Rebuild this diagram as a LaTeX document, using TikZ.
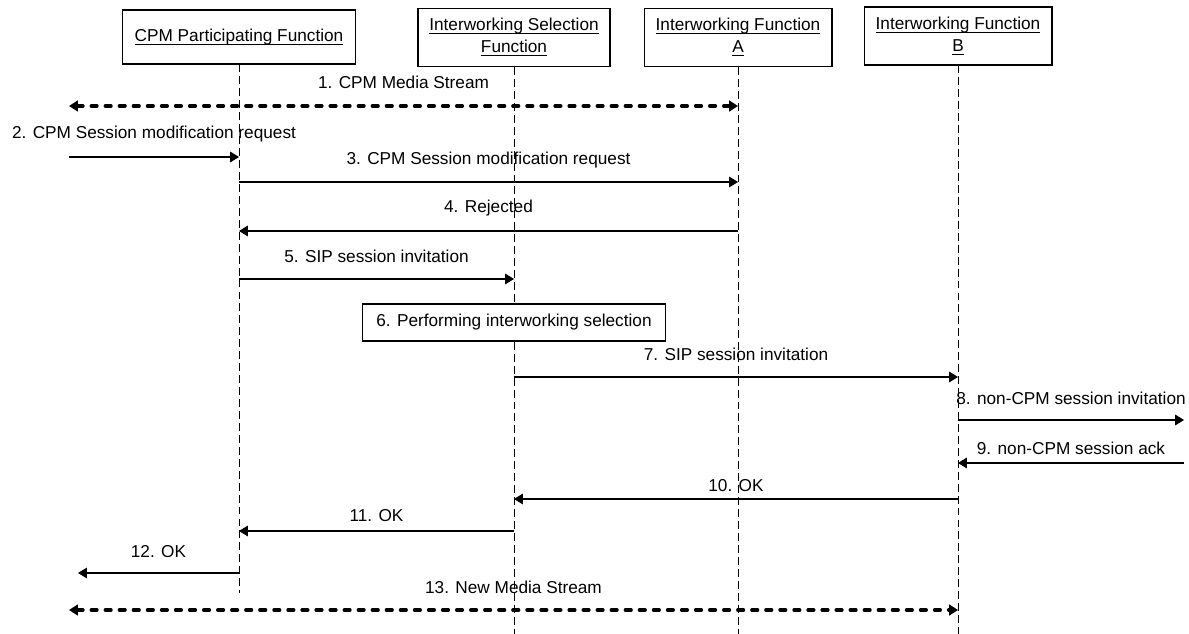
\documentclass[tikz,border=0pt]{standalone}
\usepackage{amsmath}
\usepackage{fontspec}
\setmainfont{Liberation Sans}
\usepackage{tikz}
\usetikzlibrary{arrows.meta}
\usetikzlibrary{positioning}
\newcommand{\undl}[1]{\underline{\smash[b]{#1}}}

\begin{document}
\begin{tikzpicture}[x=0.02cm,y=-0.02cm,
                    font=\fontsize{9.8}{12.5}\selectfont,
                    >={Triangle[length=5pt,width=6pt]},
                    entity/.style={draw,line width=0.6pt,align=center,inner sep=0pt,minimum height=1.16cm},
                    lifeline/.style={line width=0.5pt,dash pattern=on 4.5pt off 2.3pt},
                    msg/.style={->,line width=0.6pt},
                    media/.style={<->,line width=2pt,dash pattern=on 3.2pt off 4.8pt,line cap=round}]
                    \useasboundingbox (0,0) rectangle (1189,634);
                    
                    \node (cpf) [entity,minimum width=4.66cm,minimum height=1.08cm] at (239,37) {\undl{CPM Participating Function}};
                    \node (isf) [entity,minimum width=3.84cm] at (514,37.5) {\undl{Interworking Selection}\\\undl{Function}};
                    \node (iwfa) [entity,minimum width=3.76cm] at (738,37.5) {\undl{Interworking Function}\\\undl{A}};
                    \node (iwfb) [entity,minimum width=3.76cm] at (958,36) {\undl{Interworking Function}\\\undl{B}};
                    
                    \coordinate (cpfend) at (239,593);
                    \coordinate (bottom) at (0,634);
                    \coordinate (envL) at (69,0);
                    \coordinate (envK) at (78,0);
                    \coordinate (envR) at (1184,0);
                    
                    \draw[lifeline] (cpf) -- (cpfend);
                    \foreach \n in {isf,iwfa,iwfb} {
                        \draw[lifeline] (\n) -- (\n |- bottom);
                    }
                    
                    \draw[media] (envL |- 0,106) -- (iwfa |- 0,106) node[midway,anchor=base,yshift=0.34cm] {1. CPM Media Stream};
                    \draw[media] (envL |- 0,610) -- (iwfb |- 0,610) node[midway,anchor=base,yshift=0.34cm] {13. New Media Stream};
                    
                    \foreach \y/\a/\b/\g/\txt in {157/envL/cpf/18/{2. CPM Session modification request},
                                                  182/cpf/iwfa/17/{3. CPM Session modification request},
                                                  231/iwfa/cpf/18/{4. Rejected},
                                                  279/cpf/isf/16/{5. SIP session invitation},
                                                  377/isf/iwfb/16/{7. SIP session invitation},
                                                  420/iwfb/envR/16/{8. non-CPM session invitation},
                                                  463/envR/iwfb/9/{9. non-CPM session ack},
                                                  499/iwfb/isf/8/{10. OK},
                                                  531/isf/cpf/10/{11. OK},
                                                  573/cpf/envK/16/{12. OK}} {
                        \draw[msg] (\a |- 0,\y) -- (\b |- 0,\y) node[midway,anchor=base,yshift=\g*0.02cm] {\txt};
                    }
                    
                    \node (sel) [entity,fill=white,minimum width=6.06cm,minimum height=0.74cm] at (514,322.5) {6. Performing interworking selection};
                \end{tikzpicture}
\end{document}
